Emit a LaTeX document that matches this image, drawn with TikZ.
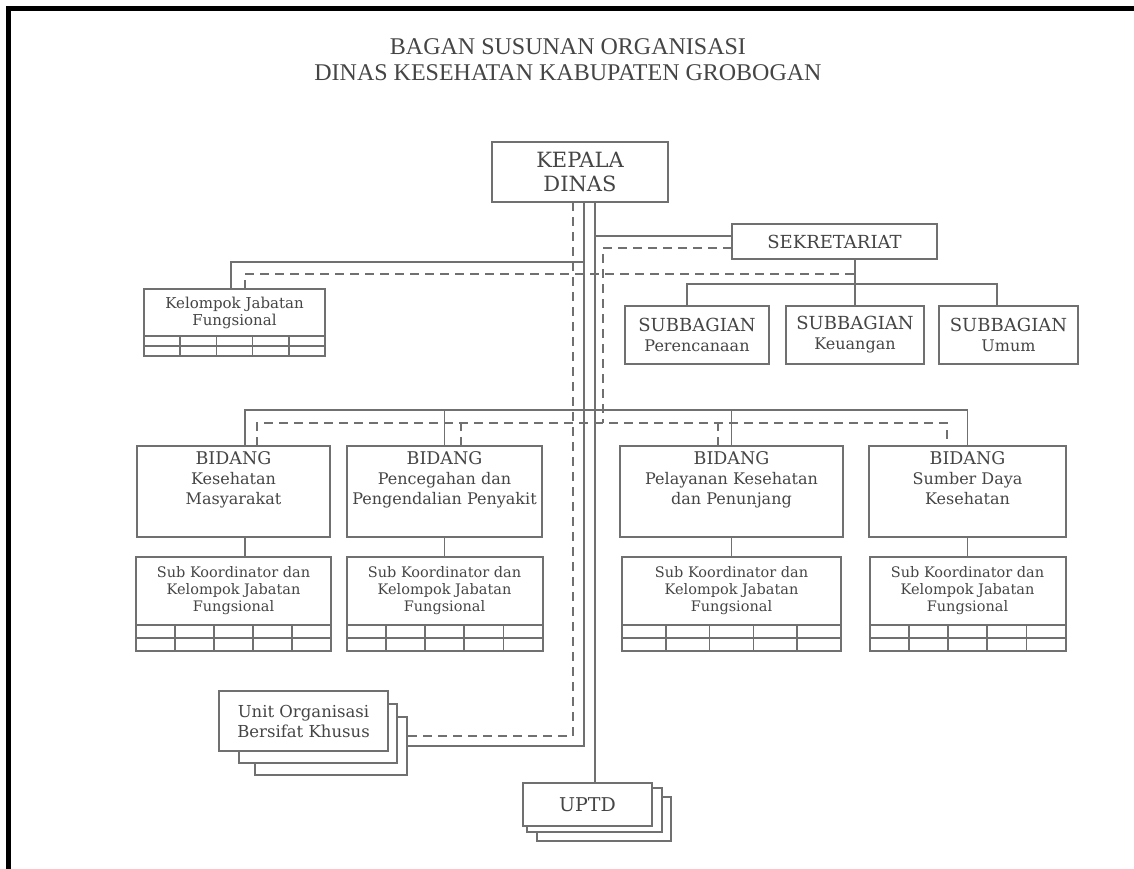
\documentclass[tikz,border=0pt]{standalone}
\usepackage{fontspec}
\setmainfont{DejaVu Serif}
\newfontfamily\titlefont{Liberation Serif}
\usepackage{tikz}
\usetikzlibrary{positioning,calc}
\definecolor{linegray}{HTML}{707070}
\definecolor{inkgray}{HTML}{454545}
\tikzstyle{unitbox}=[rectangle,draw=linegray,fill=white,line width=2pt,text=inkgray,align=center,inner sep=0pt,outer sep=0pt]
\tikzstyle{cellrow}=[rectangle,draw=linegray,fill=white,line width=2pt,inner sep=0pt,outer sep=0pt]
\tikzstyle{bidtext}=[text=inkgray,align=center,anchor=north,inner sep=5pt,font=\fontsize{16}{20}\selectfont]
\tikzstyle{titletext}=[text=inkgray,align=center,font=\titlefont\fontsize{24}{26}\selectfont]
\tikzstyle{headfont}=[font=\fontsize{21}{24}\selectfont]
\tikzstyle{sekfont}=[font=\fontsize{18}{20}\selectfont]
\tikzstyle{subfont}=[font=\fontsize{16}{20}\selectfont]
\tikzstyle{smallfont}=[font=\fontsize{14.5}{17}\selectfont]
\tikzstyle{kjffont}=[font=\fontsize{15}{17}\selectfont]
\tikzstyle{unitfont}=[font=\fontsize{16.5}{20}\selectfont]
\tikzstyle{link}=[draw=linegray,line width=1.8pt]
\tikzstyle{dashlink}=[link,dash pattern=on 9pt off 6pt]

\begin{document}
\begin{tikzpicture}[x=1pt,y=-1pt]
                \useasboundingbox (0,0) rectangle (1134,869);
                \draw[line width=5pt] (8.5,869) -- (8.5,8.5) -- (1134,8.5);
                \node[titletext] (title) at (568,60) {BAGAN SUSUNAN ORGANISASI\\DINAS KESEHATAN KABUPATEN GROBOGAN};

                \node[unitbox,headfont,minimum width=176pt,minimum height=60pt] (kepala) at (580,172) {KEPALA\\DINAS};
                \node[unitbox,sekfont,minimum width=205pt,minimum height=35pt] (sekr) at (834.5,241.5) {SEKRETARIAT};
                \node[unitbox,subfont,minimum width=144pt,minimum height=58pt] (sbren) at (697,335) {{\fontsize{18}{20}\selectfont SUBBAGIAN}\\Perencanaan};
                \node[unitbox,subfont,minimum width=138pt,minimum height=58pt] (skeu) at (855,335) {{\fontsize{18}{20}\selectfont SUBBAGIAN}\\Keuangan};
                \node[unitbox,subfont,minimum width=139pt,minimum height=58pt] (sumum) at (1008.5,335) {{\fontsize{18}{20}\selectfont SUBBAGIAN}\\Umum};

                \node[unitbox,kjffont,minimum width=181pt,minimum height=47pt] (kjf) at (234.5,312.5) {Kelompok Jabatan\\Fungsional};
                \node[cellrow,minimum width=181pt,minimum height=20pt,below=0pt of kjf] (kjfc) {};

                \node[unitbox,minimum width=193pt,minimum height=91pt,label={[bidtext]north:{{\fontsize{17.5}{20}\selectfont BIDANG}\\Kesehatan\\Masyarakat}}] (bid1) at (233.5,491.5) {};
                \node[unitbox,minimum width=195pt,minimum height=91pt,label={[bidtext]north:{{\fontsize{17.5}{20}\selectfont BIDANG}\\Pencegahan dan\\Pengendalian Penyakit}}] (bid2) at (444.5,491.5) {};
                \node[unitbox,minimum width=223pt,minimum height=91pt,label={[bidtext]north:{{\fontsize{17.5}{20}\selectfont BIDANG}\\Pelayanan Kesehatan\\dan Penunjang}}] (bid3) at (731.5,491.5) {};
                \node[unitbox,minimum width=197pt,minimum height=91pt,label={[bidtext]north:{{\fontsize{17.5}{20}\selectfont BIDANG}\\Sumber Daya\\Kesehatan}}] (bid4) at (967.5,491.5) {};

                \node[unitbox,smallfont,minimum width=195pt,minimum height=68pt,below=20pt of bid1] (sk1) {Sub Koordinator dan\\Kelompok Jabatan\\Fungsional};
                \node[unitbox,smallfont,minimum width=196pt,minimum height=68pt,below=20pt of bid2] (sk2) {Sub Koordinator dan\\Kelompok Jabatan\\Fungsional};
                \node[unitbox,smallfont,minimum width=219pt,minimum height=68pt,below=20pt of bid3] (sk3) {Sub Koordinator dan\\Kelompok Jabatan\\Fungsional};
                \node[unitbox,smallfont,minimum width=196pt,minimum height=68pt,below=20pt of bid4] (sk4) {Sub Koordinator dan\\Kelompok Jabatan\\Fungsional};
                \node[cellrow,minimum width=195pt,minimum height=26pt,below=0pt of sk1] (sk1c) {};
                \node[cellrow,minimum width=196pt,minimum height=26pt,below=0pt of sk2] (sk2c) {};
                \node[cellrow,minimum width=219pt,minimum height=26pt,below=0pt of sk3] (sk3c) {};
                \node[cellrow,minimum width=196pt,minimum height=26pt,below=0pt of sk4] (sk4c) {};

                \node[unitbox,minimum width=152pt,minimum height=58pt] (uk3) at (331,746) {};
                \node[unitbox,minimum width=158pt,minimum height=59pt] (uk2) at (318,733) {};
                \node[unitbox,unitfont,minimum width=169pt,minimum height=60pt] (uk1) at (303.5,721) {Unit Organisasi\\Bersifat Khusus};

                \node[unitbox,minimum width=134pt,minimum height=44pt] (uptd3) at (604,819) {};
                \node[unitbox,minimum width=135pt,minimum height=44pt] (uptd2) at (594.5,810) {};
                \node[unitbox,font=\fontsize{19}{22}\selectfont,minimum width=129pt,minimum height=43pt] (uptd1) at (587.5,804.5) {UPTD};

                \foreach \c in {kjfc,sk1c,sk2c,sk3c,sk4c}{
                        \draw[link,line width=1.6pt] (\c.west) -- (\c.east);
                        \foreach \k in {1,...,4}
                                \draw[link,line width=1.6pt] ($(\c.north west)!\k/5!(\c.north east)$) -- ($(\c.south west)!\k/5!(\c.south east)$);
                }

                \coordinate (dtrunk) at ([xshift=-7pt]kepala.south);
                \coordinate (strunk) at ([xshift=4pt]kepala.south);
                \coordinate (utrunk) at ([xshift=15pt]kepala.south);
                \coordinate (dbus) at (603,423);

                \draw[dashlink] (dtrunk) |- ([yshift=10pt]uk3.east);
                \draw[link] (strunk) |- (uk3.east);
                \draw[link] (utrunk) -- (utrunk |- uptd1.north);
                \draw[link] ([yshift=5.5pt]sekr.west) -| (utrunk);
                \draw[dashlink] ([yshift=-6.5pt]sekr.west) -| (dbus);
                \draw[link] ([xshift=-3.5pt]kjf.north) -- ++(0,-27) -| (strunk);
                \draw[dashlink] ([xshift=10.5pt]kjf.north) -- ++(0,-15) coordinate (kdash) -- (kdash -| skeu.north);

                \draw[link] (sekr.south -| skeu.north) -- (skeu.north);
                \draw[link] ([xshift=-10pt]sbren.north) -- ++(0,-22) -| ([xshift=-11.5pt]sumum.north);

                \draw[link] ([xshift=11.5pt]bid1.north) -- ++(0,-36) -| (bid4.north);
                \draw[link] (bid2.north) -- ++(0,-36);
                \draw[link] (bid3.north) -- ++(0,-36);
                \draw[dashlink] ([xshift=23.5pt]bid1.north) -- ++(0,-23) -| ([xshift=-20.5pt]bid4.north);
                \draw[dashlink] ([xshift=16.5pt]bid2.north) -- ++(0,-23);
                \draw[dashlink] ([xshift=-13.5pt]bid3.north) -- ++(0,-23);

                \draw[link] ([xshift=11.5pt]bid1.south) -- ([xshift=11.5pt]sk1.north);
                \foreach \i in {2,3,4}
                        \draw[link] (bid\i.south) -- (sk\i.north);
\end{tikzpicture}
\end{document}
